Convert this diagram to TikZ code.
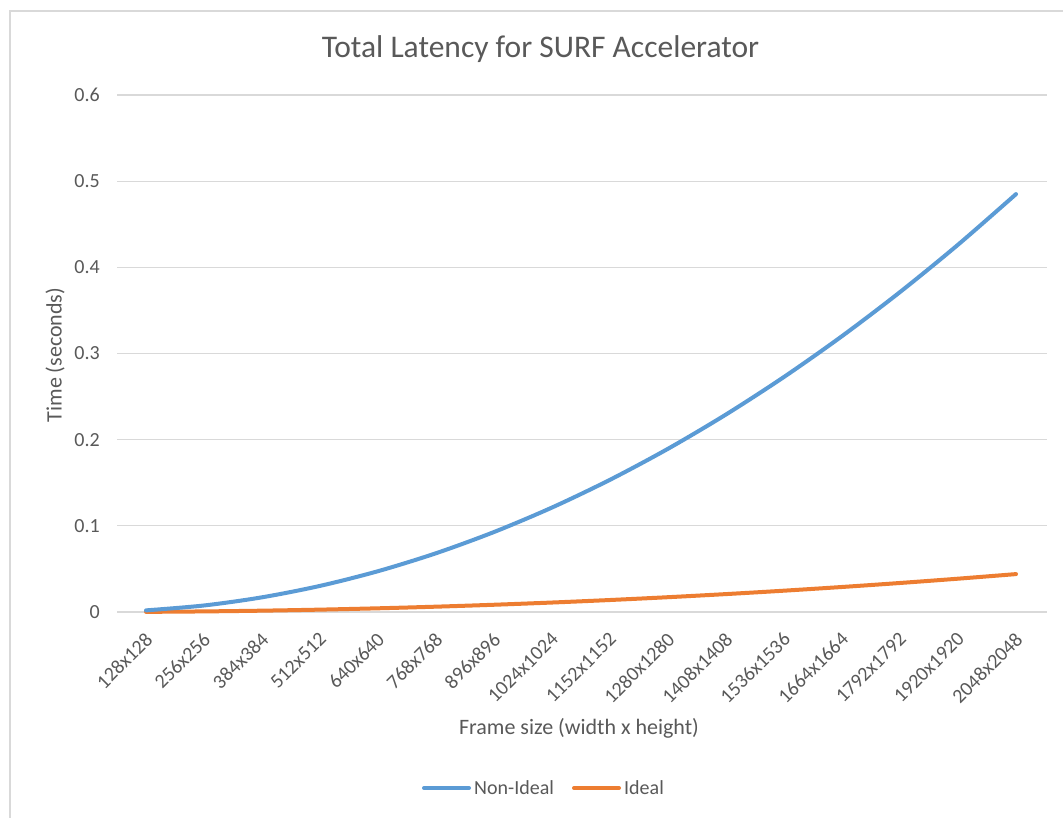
\documentclass[tikz,border=0pt]{standalone}
\usepackage{fontspec}
\setmainfont{Carlito}
\definecolor{txt}{HTML}{595959}
\definecolor{grid}{HTML}{D9D9D9}
\definecolor{bord}{HTML}{D9D9D9}
\definecolor{ser1}{HTML}{5B9BD5}
\definecolor{ser2}{HTML}{ED7D31}
\begin{document}
\begin{tikzpicture}[x=1pt,y=-1pt,
  gridline/.style={draw=grid,line width=1.2pt},
  ticklab/.style={text=txt,font=\fontsize{20}{22}\selectfont,inner sep=0pt},
  catlab/.style={text=txt,font=\fontsize{20}{22}\selectfont,inner sep=0pt,rotate=45,anchor=north east},
  axtitle/.style={text=txt,font=\fontsize{22}{24}\selectfont,inner sep=0pt},
  series/.style={line width=4pt,line cap=round,line join=round},
]
\useasboundingbox (0,0) rectangle (1063,817);
\fill[white] (0,0) rectangle (1063,817);
% chart border
\draw[bord,line width=1.6pt] (10,830) -- (10,11) -- (1080,11);
% title
\node[text=txt,font=\fontsize{31.5}{33}\selectfont,inner sep=0pt,anchor=base] (title) at (540.5,57) {Total Latency for SURF Accelerator};
% gridlines and y tick labels
\foreach \v/\lab in {0/0,1/0.1,2/0.2,3/0.3,4/0.4,5/0.5,6/0.6}{
  \coordinate (gl\v) at (117,{612-\v*86.17});
  \coordinate (gr\v) at (1047,{612-\v*86.17});
  \draw[gridline] (gl\v) -- (gr\v);
  \node[ticklab,anchor=east] (yl\v) at (100,{612-\v*86.17}) {\lab};
}
% category labels
\foreach \k/\lab in {1/128x128,2/256x256,3/384x384,4/512x512,5/640x640,6/768x768,7/896x896,8/1024x1024,9/1152x1152,10/1280x1280,11/1408x1408,12/1536x1536,13/1664x1664,14/1792x1792,15/1920x1920,16/2048x2048}{
  \node[catlab] (xl\k) at ({146+(\k-1)*58-2},631) {\lab};
}
% series
\draw[series,ser2] plot[smooth,samples=16,domain=1:16] ({146+(\x-1)*58},{612-37.91*(\x/16)^2});
\draw[series,ser1] plot[smooth,samples=16,domain=1:16] ({146+(\x-1)*58},{612-417.9*(\x/16)^2});
% axis titles
\node[axtitle,rotate=90] (ytitle) at (55,355) {Time (seconds)};
\node[axtitle] (xtitle) at (579,728) {Frame size (width x height)};
% legend
\coordinate (la1) at (424,788);
\coordinate (lb1) at (469,788);
\draw[series,ser1] (la1) -- (lb1);
\node[ticklab,anchor=west] (leg1) at (474,788) {Non-Ideal};
\coordinate (la2) at (574,788);
\coordinate (lb2) at (619,788);
\draw[series,ser2] (la2) -- (lb2);
\node[ticklab,anchor=west] (leg2) at (624,788) {Ideal};
\end{tikzpicture}
\end{document}
